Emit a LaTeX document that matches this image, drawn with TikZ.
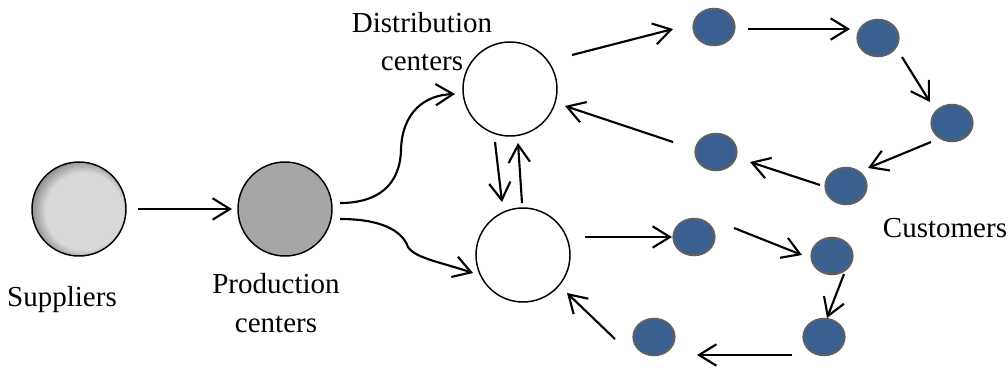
\documentclass[tikz,border=0pt]{standalone}
\usepackage{fontspec}
\setmainfont{Liberation Serif}
\usetikzlibrary{arrows.meta,shapes.geometric}

\definecolor{supfill}{RGB}{217,217,217}
\definecolor{supedge}{RGB}{110,110,110}
\definecolor{prodfill}{RGB}{166,166,166}
\definecolor{custfill}{RGB}{58,96,146}
\definecolor{custline}{RGB}{96,96,96}

% light disc with a darker rim towards the upper left
\pgfdeclareradialshading{suppliershade}{\pgfpoint{4.5bp}{-2bp}}{%
  color(0bp)=(supfill);color(20.5bp)=(supfill);color(30bp)=(supedge);color(50bp)=(supedge)}

\tikzset{
  bigsite/.style={circle,draw=black,line width=1.1pt,minimum size=70.5pt,inner sep=0pt},
  customer/.style={ellipse,draw=custline,fill=custfill,line width=1.4pt,
    minimum width=31pt,minimum height=27.5pt,inner sep=0pt},
  flow/.style={line width=1.6pt,-{Straight Barb[length=13pt,width=16pt,line width=1.6pt]}},
  label/.style={font=\fontsize{21.75}{29}\selectfont,anchor=base,inner sep=0pt}
}

\begin{document}
\begin{tikzpicture}[x=0.75pt,y=-0.75pt]
\useasboundingbox (0,0) rectangle (1008,369);

% sites
\node[bigsite,shading=suppliershade] (sup) at (79,209) {};
\node[bigsite,fill=prodfill] (prod) at (285,209) {};
\node[bigsite,fill=white] (dc1) at (510,89) {};
\node[bigsite,fill=white] (dc2) at (523,255) {};

% customers
\node[customer] (c1) at (714,27) {};
\node[customer] (c2) at (878,38) {};
\node[customer] (c3) at (952,123) {};
\node[customer] (c4) at (846,186) {};
\node[customer] (c5) at (716,152) {};
\node[customer] (c6) at (694,237) {};
\node[customer] (c7) at (832,256) {};
\node[customer] (c8) at (824,337) {};
\node[customer] (c9) at (654,337) {};

% labels
\node[label] (lsup) at (62,306) {Suppliers};
\node[label] (lprod1) at (276,293) {Production};
\node[label] (lprod2) at (276,332) {centers};
\node[label] (ldc1) at (422,32) {Distribution};
\node[label] (ldc2) at (422,70) {centers};
\node[label] (lcust) at (945,237) {Customers};

% waypoints of the curved supply links
\coordinate (bendup) at (401,150);
\coordinate (benddown) at (408,247);

% supply chain
\draw[flow] ([shift={(59,0)}]sup.center) -- ([shift={(-53,0)}]prod.center);
\draw[flow] ([shift={(55,-6)}]prod.center) .. controls (378,203) and (400,185) .. (bendup)
  .. controls (402,112) and (425,95) .. ([shift={(-55,5)}]dc1.center);
\draw[flow] ([shift={(55,10)}]prod.center) .. controls (380,219) and (402,230) .. (benddown)
  .. controls (415,258) and (440,262) .. ([shift={(-50,18)}]dc2.center);

% transfers between distribution centers
\draw[flow] ([shift={(-15,53)}]dc1.center) -- ([shift={(-21,-53)}]dc2.center);
\draw[flow] ([shift={(-1,-52)}]dc2.center) -- ([shift={(8,54)}]dc1.center);

% upper delivery tour
\draw[flow] ([shift={(62,-34)}]dc1.center) -- ([shift={(-41,2)}]c1.center);
\draw[flow] ([shift={(34,2)}]c1.center) -- ([shift={(-28,-9)}]c2.center);
\draw[flow] ([shift={(24,19)}]c2.center) -- ([shift={(-22,-21)}]c3.center);
\draw[flow] ([shift={(-21,19)}]c3.center) -- ([shift={(22,-18)}]c4.center);
\draw[flow] ([shift={(-26,-1)}]c4.center) -- ([shift={(34,10)}]c5.center);
\draw[flow] ([shift={(-43,-10)}]c5.center) -- ([shift={(55,17)}]dc1.center);

% lower delivery tour
\draw[flow] ([shift={(62,-18)}]dc2.center) -- ([shift={(-22,0)}]c6.center);
\draw[flow] ([shift={(40,-9)}]c6.center) -- ([shift={(-30,-1)}]c7.center);
\draw[flow] ([shift={(12,18)}]c7.center) -- ([shift={(3,-19)}]c8.center);
\draw[flow] ([shift={(-32,18)}]c8.center) -- ([shift={(43,18)}]c9.center);
\draw[flow] ([shift={(-39,2)}]c9.center) -- ([shift={(44,38)}]dc2.center);
\end{tikzpicture}
\end{document}
